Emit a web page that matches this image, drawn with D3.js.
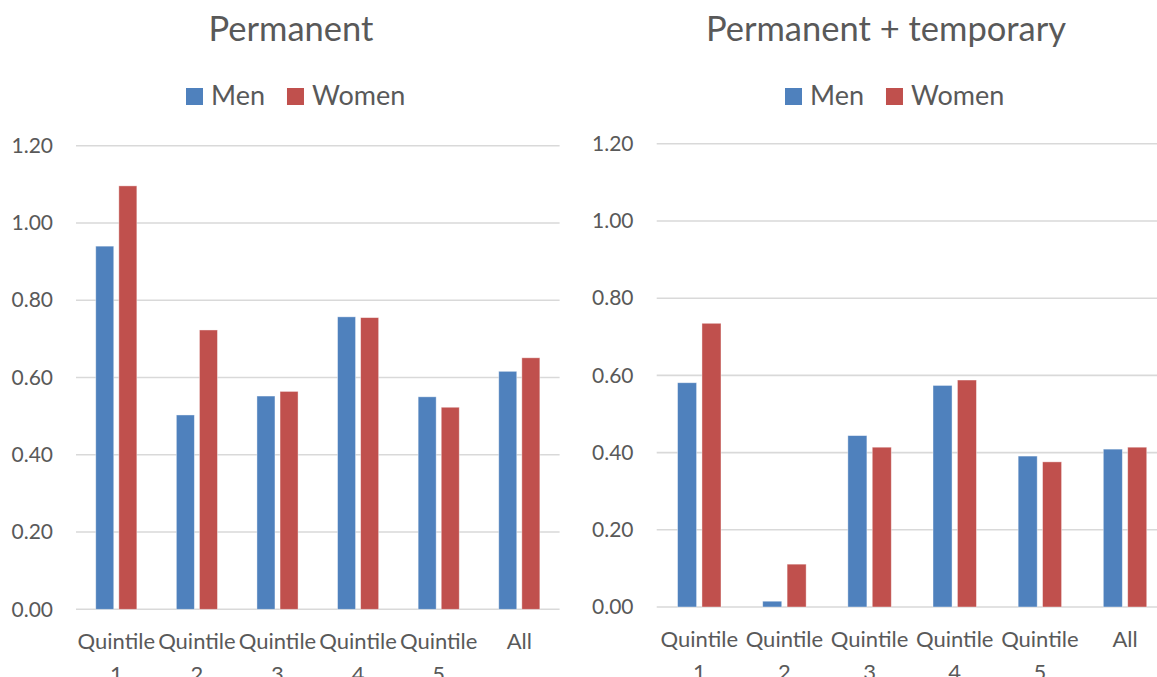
<!DOCTYPE html>
<html>
<head>
<meta charset="utf-8">
<script src="https://cdn.jsdelivr.net/npm/d3@7/dist/d3.min.js"></script>
<style>
  html, body { margin: 0; padding: 0; background: #fff; }
  svg { display: block; font-family: Lato, "Noto Sans", sans-serif; }
</style>
</head>
<body>
<svg id="chart" width="1157" height="677"></svg>
<script>
// Category labels (two lines each) and series
const categories = ["Quintile 1", "Quintile 2", "Quintile 3", "Quintile 4", "Quintile 5", "All"];
const categoryLines = [["Quintile", "1"], ["Quintile", "2"], ["Quintile", "3"], ["Quintile", "4"], ["Quintile", "5"], ["All"]];
const seriesNames = ["Men", "Women"];
const seriesColors = ["#4f81bd", "#c0504d"];
const yTicks = [0, 0.2, 0.4, 0.6, 0.8, 1.0, 1.2];

// Permanent
const permanentMen   = [0.94, 0.503, 0.552, 0.757, 0.550, 0.616];
const permanentWomen = [1.096, 0.723, 0.564, 0.755, 0.523, 0.651];

// Permanent + temporary
const totalMen   = [0.581, 0.015, 0.444, 0.574, 0.391, 0.409];
const totalWomen = [0.735, 0.111, 0.414, 0.588, 0.376, 0.414];

const textColor = "#595959";
const gridColor = "#d9d9d9";

const svg = d3.select("#chart");

function drawPanel(opts) {
  const g = svg.append("g");
  const x0 = d3.scaleBand().domain(categories).range([opts.left, opts.right]).padding(0);
  const bw = x0.bandwidth();
  const x1 = d3.scaleBand().domain(seriesNames)
    .range([bw * 0.245, bw * 0.755]).paddingInner(0.22).paddingOuter(0);
  const y = d3.scaleLinear().domain([0, 1.2]).range([opts.bottom, opts.top]);

  // Title
  g.append("text")
    .attr("x", opts.titleX).attr("y", 41)
    .attr("text-anchor", "middle")
    .attr("font-size", 34.5)
    .attr("fill", textColor)
    .text(opts.title);

  // Legend
  const legend = g.append("g").attr("transform", `translate(${opts.legendX},0)`);
  let lx = 0;
  seriesNames.forEach((name, i) => {
    legend.append("rect")
      .attr("x", lx).attr("y", 88).attr("width", 17).attr("height", 17)
      .attr("fill", seriesColors[i]);
    const t = legend.append("text")
      .attr("x", lx + 25).attr("y", 105)
      .attr("font-size", 27)
      .attr("fill", textColor)
      .text(name);
    lx += 25 + t.node().getComputedTextLength() + 22;
  });

  // Gridlines
  g.append("g").selectAll("line").data(yTicks).join("line")
    .attr("x1", opts.left).attr("x2", opts.right)
    .attr("y1", d => y(d)).attr("y2", d => y(d))
    .attr("stroke", gridColor).attr("stroke-width", 1.6);

  // Y axis labels
  const yAxis = d3.axisLeft(y).tickValues(yTicks).tickFormat(d3.format(".2f")).tickSize(0).tickPadding(0);
  const ya = g.append("g").attr("transform", `translate(${opts.labelRight},0)`).call(yAxis);
  ya.select(".domain").remove();
  ya.selectAll("text").attr("font-size", 21).attr("fill", textColor)
    .attr("font-family", "Lato, 'Noto Sans', sans-serif");

  // Bars
  const rows = categories.map((c, i) => ({ cat: c, vals: [opts.men[i], opts.women[i]] }));
  const groups = g.append("g").selectAll("g").data(rows).join("g")
    .attr("transform", d => `translate(${x0(d.cat)},0)`);
  groups.selectAll("rect")
    .data(d => d.vals.map((v, i) => ({ key: seriesNames[i], v, i })))
    .join("rect")
    .attr("x", d => x1(d.key))
    .attr("width", x1.bandwidth())
    .attr("y", d => y(d.v))
    .attr("height", d => y(0) - y(d.v))
    .attr("fill", d => seriesColors[d.i])
    .attr("stroke", "#ffffff").attr("stroke-opacity", 0.5).attr("stroke-width", 0.8);

  // Category labels
  const xl = g.append("g");
  categories.forEach((c, i) => {
    const cx = x0(c) + bw / 2;
    const t = xl.append("text")
      .attr("x", cx).attr("y", opts.bottom + 40)
      .attr("text-anchor", "middle")
      .attr("font-size", 22)
      .attr("fill", textColor);
    categoryLines[i].forEach((line, j) => {
      t.append("tspan").attr("x", cx).attr("dy", j === 0 ? 0 : 33).text(line);
    });
  });
}

drawPanel({
  title: "Permanent", titleX: 291,
  legendX: 186,
  left: 76, right: 559.6, top: 145.7, bottom: 609.3, labelRight: 53,
  men: permanentMen, women: permanentWomen
});

drawPanel({
  title: "Permanent + temporary", titleX: 886,
  legendX: 785,
  left: 656.7, right: 1167.6, top: 143.8, bottom: 607, labelRight: 633.5,
  men: totalMen, women: totalWomen
});
</script>
</body>
</html>
